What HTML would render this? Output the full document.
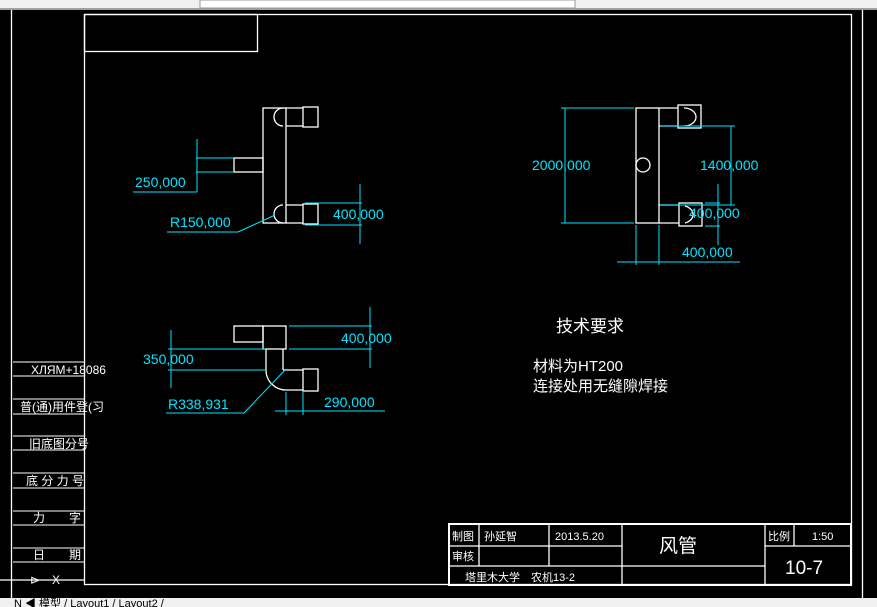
<!DOCTYPE html>
<html><head><meta charset="utf-8"><style>
body{margin:0;width:877px;height:607px;overflow:hidden;background:#000;}
svg{display:block}
text{font-family:"Liberation Sans","Noto Sans CJK SC",sans-serif;}
</style></head><body>
<svg width="877" height="607" viewBox="0 0 877 607">
<rect x="0" y="0" width="877" height="9" fill="#f0f0f0"/>
<rect x="0" y="8" width="877" height="2" fill="#a0a0a0"/>
<rect x="200" y="0" width="375" height="8" fill="#fff" stroke="#999"/>
<rect x="0" y="598" width="877" height="9" fill="#f0f0f0"/>
<text x="14" y="607" font-size="11" fill="#000">N ◀ 模型 / Layout1 / Layout2 /</text>
<g stroke="#fff" stroke-width="1.3" fill="none">
<line x1="11.5" y1="10" x2="11.5" y2="598"/>
<line x1="862.5" y1="10" x2="862.5" y2="598"/>
<rect x="84.5" y="14.5" width="767" height="570"/>
<rect x="84.5" y="14.5" width="173" height="37"/>
<line x1="0" y1="580" x2="84" y2="580"/>
<g stroke-width="1">
<line x1="13" y1="362" x2="84" y2="362"/><line x1="13" y1="376" x2="84" y2="376"/>
<line x1="13" y1="399" x2="84" y2="399"/><line x1="13" y1="414" x2="84" y2="414"/>
<line x1="13" y1="436" x2="84" y2="436"/><line x1="13" y1="450" x2="84" y2="450"/>
<line x1="13" y1="473" x2="84" y2="473"/><line x1="13" y1="488" x2="84" y2="488"/>
<line x1="13" y1="511" x2="84" y2="511"/><line x1="13" y1="525" x2="84" y2="525"/>
<line x1="13" y1="548" x2="84" y2="548"/><line x1="13" y1="562" x2="84" y2="562"/>
</g>
<!-- title block -->
<rect x="449" y="524" width="402" height="61" stroke-width="2"/>
<line x1="449" y1="546" x2="622" y2="546"/><line x1="449" y1="566" x2="765" y2="566"/>
<line x1="765" y1="546" x2="851" y2="546"/>
<line x1="479" y1="524" x2="479" y2="566"/><line x1="549" y1="524" x2="549" y2="566"/>
<line x1="622" y1="524" x2="622" y2="585"/><line x1="765" y1="524" x2="765" y2="585"/>
<line x1="794" y1="524" x2="794" y2="546"/>
<!-- drawing 1 -->
<rect x="263" y="108" width="23" height="115"/>
<line x1="286" y1="108" x2="303" y2="108"/><line x1="286" y1="126" x2="303" y2="126"/>
<rect x="303" y="107" width="15" height="20"/>
<path d="M283 108 A9 9 0 0 0 283 126"/>
<line x1="286" y1="205" x2="303" y2="205"/><line x1="286" y1="223" x2="303" y2="223"/>
<rect x="303" y="204" width="15" height="20"/>
<path d="M283 205 A9 9 0 0 0 283 223"/>
<rect x="234" y="158" width="29" height="14"/>
<!-- drawing 3 -->
<rect x="234" y="326" width="29" height="16"/>
<rect x="263" y="326" width="23" height="23"/>
<line x1="266" y1="349" x2="266" y2="370"/><line x1="283" y1="349" x2="283" y2="370"/>
<path d="M266 370 A20 20 0 0 0 286 390"/>
<line x1="283" y1="370" x2="303" y2="370"/><line x1="286" y1="390" x2="303" y2="390"/>
<rect x="303" y="369" width="15" height="22"/>
<!-- drawing 2 -->
<rect x="636" y="108" width="23" height="115"/>
<circle cx="643" cy="165" r="7"/>
<line x1="659" y1="108" x2="678" y2="108"/><line x1="659" y1="126" x2="678" y2="126"/>
<rect x="678" y="105" width="23" height="23"/>
<path d="M684 108 A12 9 0 0 1 684 126"/>
<line x1="659" y1="205" x2="679" y2="205"/><line x1="659" y1="223" x2="679" y2="223"/>
<rect x="679" y="203" width="23" height="23"/>
<path d="M685 206 A12 9 0 0 1 685 223"/>
</g>
<g stroke="#00e5ff" stroke-width="1" fill="none">
<!-- d1 -->
<line x1="196" y1="158" x2="234" y2="158"/><line x1="196" y1="172" x2="234" y2="172"/>
<line x1="197" y1="139" x2="197" y2="192"/><line x1="133" y1="192" x2="197" y2="192"/>
<line x1="305" y1="203" x2="362" y2="203"/><line x1="305" y1="225" x2="362" y2="225"/>
<line x1="360" y1="184" x2="360" y2="244"/>
<line x1="167" y1="232" x2="238" y2="232"/><line x1="238" y1="232" x2="275" y2="215"/>
<!-- d3 -->
<line x1="289" y1="326" x2="372" y2="326"/><line x1="289" y1="349" x2="372" y2="349"/>
<line x1="370" y1="307" x2="370" y2="368"/>
<line x1="168" y1="349" x2="266" y2="349"/><line x1="168" y1="370" x2="266" y2="370"/>
<line x1="171" y1="330" x2="171" y2="388"/>
<line x1="166" y1="413" x2="244" y2="413"/><line x1="244" y1="413" x2="285" y2="370"/>
<line x1="286" y1="392" x2="286" y2="415"/><line x1="303" y1="392" x2="303" y2="415"/>
<line x1="275" y1="411" x2="385" y2="411"/>
<!-- d2 -->
<line x1="561" y1="108" x2="634" y2="108"/><line x1="561" y1="223" x2="634" y2="223"/>
<line x1="565" y1="108" x2="565" y2="223"/>
<line x1="660" y1="126" x2="735" y2="126"/><line x1="660" y1="205" x2="735" y2="205"/>
<line x1="731" y1="126" x2="731" y2="205"/>
<line x1="705" y1="203" x2="720" y2="203"/><line x1="705" y1="226" x2="720" y2="226"/>
<line x1="718" y1="184" x2="718" y2="245"/>
<line x1="636" y1="225" x2="636" y2="265"/><line x1="659" y1="225" x2="659" y2="265"/>
<line x1="617" y1="262" x2="740" y2="262"/>
</g>
<g fill="#00e5ff" font-size="14">
<text x="135" y="187">250,000</text>
<text x="333" y="219">400,000</text>
<text x="170" y="227">R150,000</text>
<text x="341" y="343">400,000</text>
<text x="143" y="364">350,000</text>
<text x="168" y="409">R338,931</text>
<text x="324" y="407">290,000</text>
<text x="532" y="170">2000,000</text>
<text x="700" y="170">1400,000</text>
<text x="689" y="218">400,000</text>
<text x="682" y="257">400,000</text>
</g>
<g fill="#fff">
<text x="556" y="332" font-size="17">技术要求</text>
<text x="533" y="371" font-size="15">材料为HT200</text>
<text x="533" y="391" font-size="15">连接处用无缝隙焊接</text>
<text x="31" y="374" font-size="12">ХЛЯМ+18086</text>
<text x="20" y="411" font-size="12">普(通)用件登(习</text>
<text x="29" y="448" font-size="12">旧底图分号</text>
<text x="26" y="485" font-size="12">底 分 力 号</text>
<text x="33" y="522" font-size="12">力　　字</text>
<text x="33" y="559" font-size="12">日　　期</text>
<text x="30" y="584" font-size="12">⊳　X</text>
<text x="452" y="540" font-size="11">制图</text>
<text x="484" y="540" font-size="11">孙延智</text>
<text x="555" y="540" font-size="11">2013.5.20</text>
<text x="452" y="560" font-size="11">审核</text>
<text x="465" y="581" font-size="11">塔里木大学　农机13-2</text>
<text x="659" y="552" font-size="19">风管</text>
<text x="768" y="540" font-size="11">比例</text>
<text x="812" y="540" font-size="11">1:50</text>
<text x="785" y="574" font-size="19">10-7</text>
</g>
</svg>
</body></html>
